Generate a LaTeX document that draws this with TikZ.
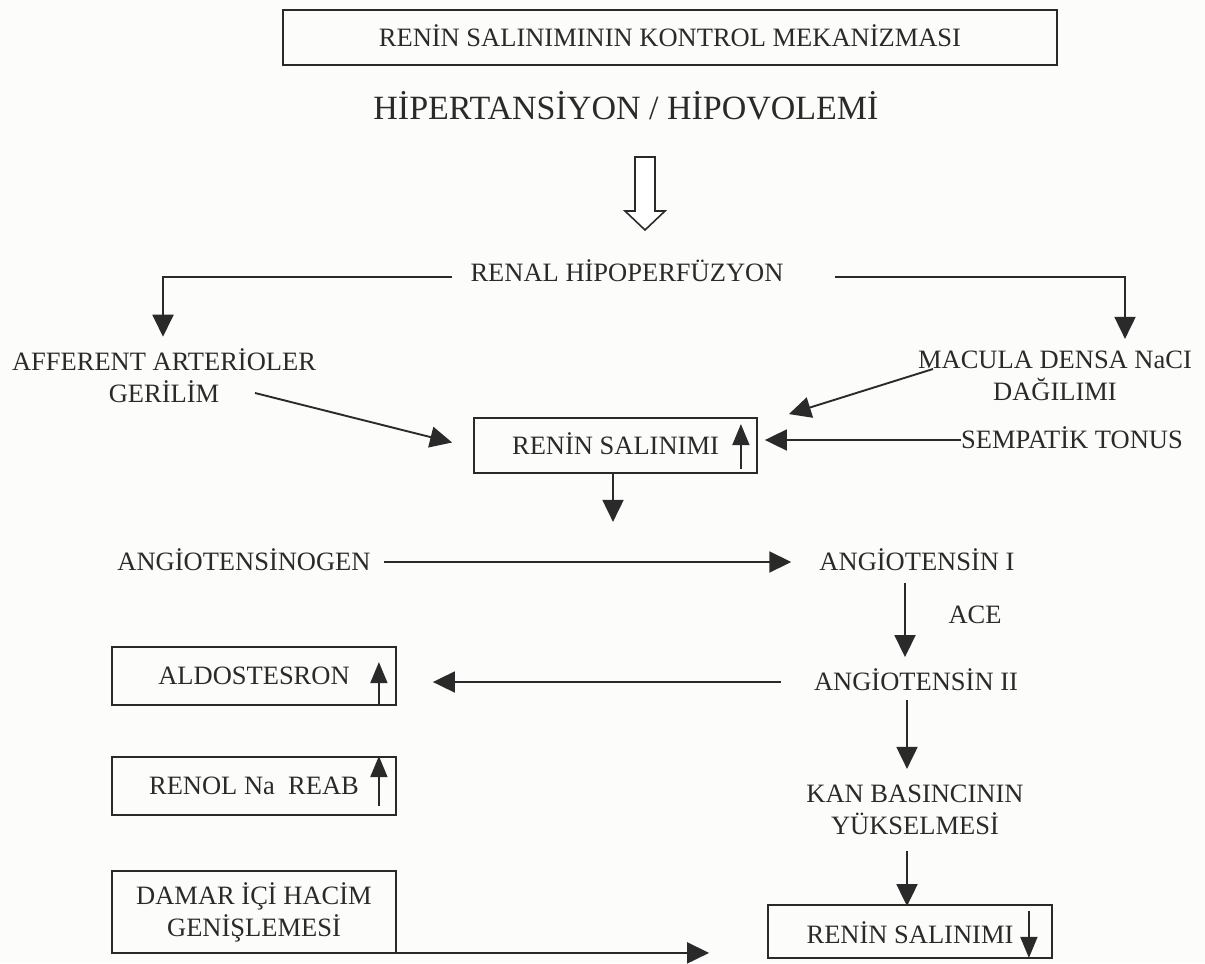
\documentclass[tikz,border=0pt]{standalone}
\usepackage{fontspec}
\setmainfont{Liberation Serif}
\usetikzlibrary{arrows.meta,calc}
\definecolor{ink}{HTML}{2A2A2A}
\definecolor{paper}{HTML}{FCFCFA}

\begin{document}
\begin{tikzpicture}[x=1pt,y=-1pt,
  every node/.style={text=ink, font=\fontsize{26.5}{32}\selectfont},
  lbl/.style={inner sep=0pt, text height=17.5pt, text depth=0pt},
  twoline/.style={inner sep=0pt, align=center},
  framed/.style={draw=ink, line width=1.8pt, inner sep=0pt, text height=17.5pt, text depth=0pt},
  framedtwo/.style={draw=ink, line width=1.8pt, inner sep=0pt, align=center},
  arr/.style={draw=ink, line width=1.9pt, -{Triangle[width=21pt,length=22pt]}},
  smallarr/.style={draw=ink, line width=1.8pt, -{Triangle[width=17pt,length=21pt]}},
]
% page
\fill[paper] (0,0) rectangle (1205,963);

% heading
\node[framed, minimum width=774pt, minimum height=55pt] (title) at (670,37.5)
  {RENİN SALINIMININ KONTROL MEKANİZMASI};
\node[lbl, font=\fontsize{34}{40}\selectfont, text height=22.5pt] (hyp) at (626,108)
  {HİPERTANSİYON / HİPOVOLEMİ};

% hollow arrow under the heading
\draw[ink, line width=1.6pt, fill=white]
  (635,157) -- (655,157) -- (655,211) -- (665,211) -- (645,230)
  -- (625,211) -- (635,211) -- cycle;

% upper part
\node[lbl] (renal) at (627,273) {RENAL HİPOPERFÜZYON};
\node[twoline] (aff) at (164,376) {AFFERENT ARTERİOLER\\GERİLİM};
\node[twoline] (mac) at (1055,376) {MACULA DENSA NaCI\\DAĞILIMI};
\node[framed, minimum width=283pt, minimum height=55pt] (ren1) at (615.5,445.5)
  {RENİN SALINIMI};
\node[lbl] (symp) at (1072,440) {SEMPATİK TONUS};

\draw[arr] ($(renal.west)+(-18,4)$) -| ($(aff.north)+(-1,-12)$);
\draw[arr] ($(renal.east)+(51,4)$) -| ($(mac.north)+(70,-12)$);
\draw[arr] ($(aff.center)+(91,17)$) -- ($(ren1.west)+(-21,-3)$);
\draw[arr] ($(mac.center)+(-122,-7)$) -- ($(ren1.north east)+(31,-3)$);
\draw[arr] (symp.west) -- ($(ren1.east |- symp.west)+(7,0)$);
\draw[smallarr] ($(ren1.south east)+(-17,-5)$) -- ($(ren1.north east)+(-17,7)$);
\draw[arr] ($(ren1.south)+(-2.5,0)$) -- ++(0,48);

% angiotensin chain
\node[lbl] (agen) at (244,562) {ANGİOTENSİNOGEN};
\node[lbl] (ang1) at (917,562) {ANGİOTENSİN I};
\node[lbl] (ace) at (975,615) {ACE};
\node[lbl] (ang2) at (916,682) {ANGİOTENSİN II};
\node[twoline] (kan) at (915,810) {KAN BASINCININ\\YÜKSELMESİ};

\draw[arr] ($(agen.east)+(13,0)$) -- ($(ang1.west)+(-28,0)$);
\draw[arr] ($(ang1.south)+(-12,12)$) -- ($(ang2.north)+(-11,-16)$);
\draw[arr] ($(ang2.south)+(-9,9)$) -- ($(kan.north)+(-8,-16)$);
\draw[arr] ($(kan.south)+(-8,16)$) -- ($(kan.south)+(-8,71)$);

% effects on the left
\node[framed, minimum width=284pt, minimum height=58pt] (aldo) at (254,676) {ALDOSTESRON};
\node[framed, minimum width=284pt, minimum height=58pt] (renol) at (254,786) {RENOL Na~ REAB};
\node[framedtwo, minimum width=284pt, minimum height=82pt] (damar) at (254,912)
  {DAMAR İÇİ HACİM\\GENİŞLEMESİ};
\node[framed, minimum width=284pt, minimum height=53pt, text height=24.5pt] (ren2) at (910,931.5)
  {RENİN SALINIMI};

\draw[arr] ($(ang2.west)+(-33,0)$) -- ($(ang2.west -| aldo.east)+(36,0)$);
\draw[smallarr] ($(aldo.south east)+(-18,0)$) -- ($(aldo.north east)+(-18,16)$);
\draw[smallarr] ($(renol.south east)+(-18,-10)$) -- ($(renol.north east)+(-18,0)$);
\draw[smallarr] ($(ren2.north east)+(-24,7)$) -- ($(ren2.south east)+(-24,-1)$);
\draw[arr] ($(damar.south east)+(0,-1)$) -- ($(damar.south east -| ren2.west)+(-58,-1)$);
\end{tikzpicture}
\end{document}
